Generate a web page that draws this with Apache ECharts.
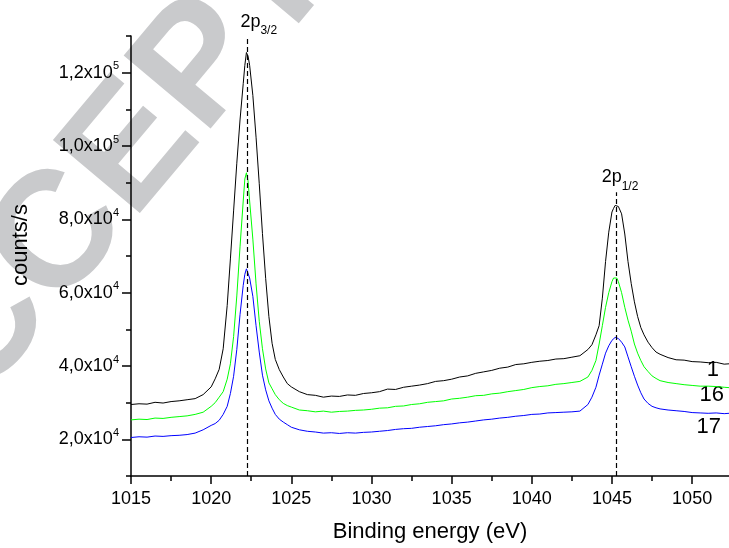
<!DOCTYPE html>
<html>
<head>
<meta charset="utf-8">
<script src="https://cdn.jsdelivr.net/npm/echarts@6/dist/echarts.min.js"></script>
<style>
  html, body { margin: 0; padding: 0; background: #fff; }
  #chart { width: 729px; height: 548px; }
</style>
</head>
<body>
<div id="chart"></div>
<script>
// binding energy grid (eV), shared by the three spectra
var energy = [
  1015, 1015.5, 1016, 1016.5, 1017, 1017.5, 1018, 1018.5, 1019, 1019.5,
  1020, 1020.25, 1020.5, 1020.75, 1021, 1021.2, 1021.4, 1021.6, 1021.8, 1022,
  1022.1, 1022.2, 1022.3, 1022.4, 1022.6, 1022.8, 1023, 1023.2, 1023.4, 1023.6,
  1023.8, 1024, 1024.25, 1024.5, 1024.75, 1025, 1025.5,
  1026, 1026.5, 1027, 1027.5, 1028, 1028.5, 1029, 1029.5, 1030, 1030.5,
  1031, 1031.5, 1032, 1032.5, 1033, 1033.5, 1034, 1034.5, 1035, 1035.5,
  1036, 1036.5, 1037, 1037.5, 1038, 1038.5, 1039, 1039.5, 1040, 1040.5,
  1041, 1041.5, 1042, 1042.5, 1043, 1043.5, 1043.75, 1044, 1044.2, 1044.4,
  1044.6, 1044.8, 1045, 1045.1, 1045.2, 1045.3, 1045.4, 1045.6, 1045.8, 1046,
  1046.2, 1046.4, 1046.6, 1046.8, 1047, 1047.25, 1047.5, 1047.75, 1048, 1048.5,
  1049, 1049.5, 1050, 1050.5, 1051, 1051.5, 1052, 1052.3
];

// counts/s, spectrum 1 (black)
var counts1 = [
  29500, 29700, 29600, 30100, 29900, 30300, 30500, 30800, 31100, 32200,
  34300, 36500, 39100, 44700, 56500, 69200, 82300, 95300, 107100, 117000,
  122000, 125500, 124500, 122000, 113800, 102400, 89700, 76100, 63900, 53500,
  46200, 41800, 39000, 37000, 35200, 34300, 33000,
  32200, 32000, 31500, 31800, 31700, 32100, 32000, 32500, 32700, 33000,
  33700, 33600, 34200, 34500, 34800, 35200, 35800, 36000, 36400, 37000,
  37300, 38000, 38400, 38800, 39400, 39700, 40400, 40600, 41000, 41300,
  41500, 41900, 42000, 42400, 42800, 44500, 45800, 48500, 51000, 58500,
  68500, 76500, 82000, 83000, 83800, 84000, 83500, 81500, 76000, 68500,
  62500, 57500, 53500, 50500, 48500, 46500, 45000, 43800, 43200, 42300,
  41700, 41600, 41200, 41100, 40900, 41000, 40500, 40600
];

// counts/s, spectrum 16 (green)
var counts16 = [
  25300, 25500, 25400, 25800, 25700, 26000, 26200, 26400, 26800, 27400,
  29000, 30000, 31500, 33000, 36400, 40600, 48000, 59100, 72500, 85000,
  91000, 92700, 90500, 85000, 74600, 62400, 52200, 44700, 39200, 35400,
  33800, 32200, 30800, 29800, 29200, 28800, 28000,
  27800, 27500, 27700, 27400, 27600, 27700, 27900, 28000, 28200, 28500,
  28600, 29000, 29100, 29500, 29700, 30100, 30300, 30500, 31000, 31200,
  31500, 31900, 32000, 32400, 32600, 33000, 33300, 33600, 34100, 34400,
  34600, 35000, 35200, 35500, 35800, 37000, 38800, 41500, 46000, 51000,
  56000, 60000, 63000, 64000, 64300, 64000, 63000, 60000, 56000, 52500,
  49500, 46000, 43500, 41500, 39800, 38500, 37300, 36600, 36000, 35500,
  35200, 34900, 34700, 34500, 34500, 34400, 34200, 34100
];

// counts/s, spectrum 17 (blue)
var counts17 = [
  20500, 20700, 20600, 20900, 20800, 21000, 21100, 21300, 21700, 22600,
  23800, 24300, 25200, 26800, 29000, 32500, 37200, 44500, 54000, 62000,
  65000, 66500, 66000, 64000, 59000, 51000, 43800, 37500, 33500, 30500,
  28500, 26800, 25500, 24700, 24000, 23300, 22600,
  22200, 22000, 21700, 21800, 21600, 21800, 21700, 21900, 22000, 22200,
  22400, 22700, 22900, 23000, 23300, 23500, 23700, 24000, 24200, 24500,
  24700, 25000, 25300, 25500, 25800, 26000, 26300, 26500, 26800, 26900,
  27200, 27300, 27400, 27500, 27700, 29500, 31500, 34200, 37500, 40500,
  43500, 45500, 47000, 47500, 47800, 47800, 47500, 46500, 45200, 42500,
  39800, 37200, 34800, 32700, 31000, 29800, 29000, 28600, 28300, 28000,
  27800, 27600, 27300, 27200, 27100, 27200, 27000, 27100
];

var curveNames = ['1', '16', '17'];
var curveColors = ['#000000', '#00ff00', '#0000ff'];

// peak markers: position (eV), top of dashed line, label parts
var peakPos = [1022.23, 1045.26];
var peakTop = [129700, 87400];
var peakMain = ['2p', '2p'];
var peakSub = ['3/2', '1/2'];

var xMajor = [1015, 1020, 1025, 1030, 1035, 1040, 1045, 1050];
var xMinor = [1017.5, 1022.5, 1027.5, 1032.5, 1037.5, 1042.5, 1047.5];
var yMajor = [20000, 40000, 60000, 80000, 100000, 120000];
var yMinor = [10000, 30000, 50000, 70000, 90000, 110000, 130000];

var FONT = 'Arial, "Liberation Sans", sans-serif';

function pairs(vals) {
  return energy.map(function (e, i) { return [e, vals[i]]; });
}

function sciLabel(v) {
  var exp = Math.round(Math.log10(v) - 0.5);
  var m = (v / Math.pow(10, exp)).toFixed(1).replace('.', ',');
  return '{m|' + m + 'x10}{e|' + exp + '}';
}

var chart = echarts.init(document.getElementById('chart'));

var seriesList = [counts1, counts16, counts17].map(function (vals, i) {
  var s = {
    name: curveNames[i],
    type: 'line',
    showSymbol: false,
    symbol: 'none',
    silent: true,
    lineStyle: { color: curveColors[i], width: 1 },
    data: pairs(vals)
  };
  if (i === 0) {
    s.markLine = {
      silent: true,
      symbol: ['none', 'none'],
      label: { show: false },
      lineStyle: { color: '#000', type: [5, 3], width: 1.2 },
      data: peakPos.map(function (p, k) {
        return [{ coord: [p, 10000] }, { coord: [p, peakTop[k]] }];
      })
    };
  }
  return s;
});

var option = {
  animation: false,
  backgroundColor: '#fff',
  textStyle: { fontFamily: FONT, color: '#000' },
  grid: { left: 131, right: 0, top: 36, bottom: 70 },
  xAxis: [{
    type: 'value',
    min: 1015,
    max: 1052.3,
    position: 'bottom',
    name: 'Binding energy (eV)',
    nameLocation: 'middle',
    nameGap: 45,
    nameTextStyle: { fontSize: 22, color: '#000', fontFamily: FONT },
    axisLine: { show: true, lineStyle: { color: '#000', width: 1.5 } },
    axisTick: { show: true, inside: false, length: 8, customValues: xMajor, lineStyle: { color: '#000', width: 1.5 } },
    axisLabel: {
      customValues: xMajor, fontSize: 18, color: '#000', margin: 14, fontFamily: FONT,
      formatter: function (v) { return String(v); }
    },
    splitLine: { show: false }
  }, {
    type: 'value',
    min: 1015,
    max: 1052.3,
    position: 'bottom',
    axisLine: { show: false },
    axisTick: { show: true, inside: false, length: 5, customValues: xMinor, lineStyle: { color: '#000', width: 1.5 } },
    axisLabel: { show: false },
    splitLine: { show: false }
  }],
  yAxis: [{
    type: 'value',
    min: 10000,
    max: 130000,
    position: 'left',
    name: 'counts/s',
    nameLocation: 'middle',
    nameGap: 99,
    nameRotate: 90,
    nameTextStyle: { fontSize: 22, color: '#000', fontFamily: FONT, padding: [0, 0, 0, 22] },
    axisLine: { show: true, lineStyle: { color: '#000', width: 1.5 } },
    axisTick: { show: true, inside: false, length: 9, customValues: yMajor, lineStyle: { color: '#000', width: 1.5 } },
    axisLabel: {
      customValues: yMajor,
      margin: 12,
      formatter: sciLabel,
      rich: {
        m: { fontSize: 18, color: '#000', fontFamily: FONT },
        e: { fontSize: 11, color: '#000', fontFamily: FONT, padding: [0, 0, 13, 0] }
      }
    },
    splitLine: { show: false }
  }, {
    type: 'value',
    min: 10000,
    max: 130000,
    position: 'left',
    axisLine: { show: false },
    axisTick: { show: true, inside: false, length: 5, customValues: yMinor, lineStyle: { color: '#000', width: 1.5 } },
    axisLabel: { show: false },
    splitLine: { show: false }
  }],
  series: seriesList
};

chart.setOption(option);

// watermark and annotation texts, placed through the chart's own scales
var graphics = [{
  type: 'text',
  z: -10,
  x: -132,
  y: 466,
  rotation: 50 * Math.PI / 180,
  silent: true,
  style: {
    text: 'ACCEPTED MANUSCRIPT',
    font: 'bold 165px Arial, "Liberation Sans", sans-serif',
    fill: '#c9cacc',
    align: 'left',
    verticalAlign: 'middle'
  }
}];

var peakDx = [-6.5, -14.5];
peakPos.forEach(function (p, k) {
  var pt = chart.convertToPixel({ gridIndex: 0 }, [p, peakTop[k]]);
  graphics.push({
    type: 'text',
    x: pt[0] + peakDx[k],
    y: pt[1] - 31,
    silent: true,
    style: {
      text: '{a|' + peakMain[k] + '}{b|' + peakSub[k] + '}',
      fontSize: 18,
      fontFamily: FONT,
      fill: '#000',
      align: 'left',
      verticalAlign: 'top',
      rich: {
        a: { fontSize: 18, fontFamily: FONT, fill: '#000' },
        b: { fontSize: 12, fontFamily: FONT, fill: '#000', padding: [19, 0, 0, 0] }
      }
    }
  });
});

var endDx = [-10, -5, -8];
var endDy = [-5, -4, 3];
[counts1, counts16, counts17].forEach(function (vals, i) {
  var last = energy.length - 1;
  var pt = chart.convertToPixel({ gridIndex: 0 }, [energy[last], vals[last]]);
  graphics.push({
    type: 'text',
    x: pt[0] + endDx[i],
    y: pt[1] + endDy[i],
    silent: true,
    style: {
      text: curveNames[i],
      font: '22px Arial, "Liberation Sans", sans-serif',
      fill: '#000',
      align: 'right',
      verticalAlign: 'top'
    }
  });
});

chart.setOption({ graphic: graphics });
</script>
</body>
</html>
